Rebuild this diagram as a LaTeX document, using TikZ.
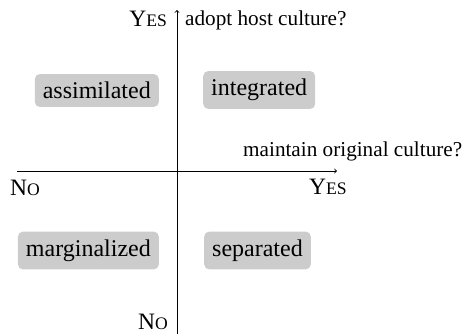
\documentclass[tikz,border=0pt]{standalone}
\usepackage{fontspec}
\setmainfont{Liberation Serif}
\newcommand{\boxfont}{\fontsize{24}{29}\selectfont}
\newcommand{\askfont}{\fontsize{21.2}{25}\selectfont}
\newcommand{\capsY}[1]{{\fontsize{23.5}{28}\selectfont #1}}
\newcommand{\capsS}[1]{{\fontsize{17.6}{21}\selectfont #1}}
\begin{document}
\begin{tikzpicture}[x=1pt,y=-1pt,
  axis/.style={line width=0.9pt},
  quadrant/.style={fill=black!20, rounded corners=5pt, inner xsep=8pt,
    inner ysep=8pt, font=\boxfont},
  question/.style={inner sep=0pt, font=\askfont},
  answer/.style={inner sep=0pt}]
  \useasboundingbox (0,0) rectangle (464,333);

  % axis end points
  \coordinate (xL) at (17,171);
  \coordinate (xR) at (337,171);
  \coordinate (yB) at (177,335);
  \coordinate (yT) at (177,10);

  \draw[axis,->] (xL) -- (xR);
  \draw[axis,->] (yB) -- (yT);

  % axis questions
  \node[question, anchor=base west] (qy) at (185,25) {adopt host culture?};
  \node[question, anchor=base west] (qx) at (243,156.5) {maintain original culture?};

  % axis answers
  \node[answer, anchor=base east] (yyes) at (167,26.5) {\capsY{Y}\capsS{ES}};
  \node[answer, anchor=base east] (yno) at (168,329) {\capsY{N}\capsS{O}};
  \node[answer, anchor=base west] (xyes) at (309,194) {\capsY{Y}\capsS{ES}};
  \node[answer, anchor=base west] (xno) at (10,195) {\capsY{N}\capsS{O}};

  % four strategies
  \node[quadrant, anchor=east] (assim) at (159,90.5) {assimilated};
  \node[quadrant, anchor=west] (integ) at (203,90) {integrated};
  \node[quadrant, anchor=east] (marg) at (159,250.5) {marginalized};
  \node[quadrant, anchor=west] (sep) at (204,250.5) {separated};
\end{tikzpicture}
\end{document}
